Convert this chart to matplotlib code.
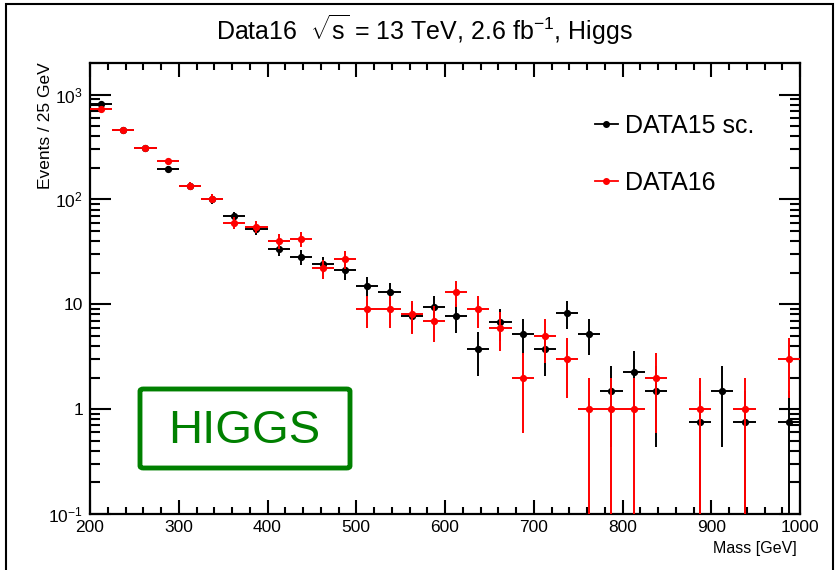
import numpy as np
import matplotlib
matplotlib.use("Agg")
import matplotlib.pyplot as plt
from matplotlib.lines import Line2D
from matplotlib.patches import Rectangle, FancyBboxPatch
from matplotlib.ticker import FixedLocator, FuncFormatter, LogLocator, MultipleLocator

plt.rcParams["font.family"] = ["Liberation Sans", "DejaVu Sans"]
plt.rcParams["mathtext.fontset"] = "custom"
plt.rcParams["mathtext.rm"] = "Liberation Sans"
plt.rcParams["mathtext.it"] = "Liberation Sans:italic"
plt.rcParams["mathtext.bf"] = "Liberation Sans:bold"

# bin centres (25 GeV bins)
mass = [212.5, 237.5, 262.5, 287.5, 312.5, 337.5, 362.5, 387.5,
        412.5, 437.5, 462.5, 487.5, 512.5, 537.5, 562.5, 587.5,
        612.5, 637.5, 662.5, 687.5, 712.5, 737.5, 762.5, 787.5,
        812.5, 837.5, 862.5, 887.5, 912.5, 937.5, 962.5, 987.5]
bin_half = 12.5

# DATA15 scaled (scale factor 0.75)
data15 = [810, 455, 310, 195, 135, 100, 69, 51.75,
          33.75, 28.5, 24, 21, 15, 13, 7.8, 9.4,
          7.7, 3.75, 6.75, 5.25, 3.75, 8.25, 5.25, 1.5,
          2.25, 1.5, np.nan, 0.75, 1.5, 0.75, np.nan, 0.75]
scale15 = 0.75

# DATA16 raw counts
data16 = [730, 460, 310, 230, 135, 102, 60, 55,
          40, 42, 22, 27, 9, 9, 8, 7,
          13, 9, 6, 2, 5, 3, 1, 1,
          1, 2, np.nan, 1, np.nan, 1, np.nan, 3]

mass = np.array(mass)
data15 = np.array(data15)
data16 = np.array(data16)
err15 = np.sqrt(scale15 * data15)
err16 = np.sqrt(data16)

fig = plt.figure(figsize=(8.36, 5.70), dpi=100)
ax = fig.add_axes([90 / 836, 1 - 514 / 570, 710 / 836, (514 - 63) / 570])

ax.set_yscale("log", nonpositive="clip")
ax.errorbar(mass, data15, xerr=bin_half, yerr=err15, fmt="o", color="black",
            ms=4.2, elinewidth=1.4, capsize=0, zorder=3)
ax.errorbar(mass, data16, xerr=bin_half, yerr=err16, fmt="o", color="red",
            ms=4.2, elinewidth=1.4, capsize=0, zorder=4)

ax.set_xlim(200, 1000)
ax.set_ylim(0.1, 2000)

ax.xaxis.set_major_locator(MultipleLocator(100))
ax.xaxis.set_minor_locator(MultipleLocator(20))
ax.yaxis.set_major_locator(FixedLocator([0.1, 1, 10, 100, 1000]))
ax.yaxis.set_minor_locator(LogLocator(base=10, subs=np.arange(2, 10)))

ylabels = {0.1: r"$10^{-1}$", 1: "1", 10: "10", 100: r"$10^{2}$", 1000: r"$10^{3}$"}
ax.yaxis.set_major_formatter(FuncFormatter(lambda v, p: ylabels.get(round(v, 3), "")))
ax.yaxis.set_minor_formatter(FuncFormatter(lambda v, p: ""))

ax.tick_params(which="both", direction="in", top=True, right=True, width=1.5,
               labelsize=12.5, colors="black")
ax.tick_params(axis="x", which="major", length=10, pad=4)
ax.tick_params(axis="x", which="minor", length=5)
ax.tick_params(axis="y", which="major", length=15, pad=5)
ax.tick_params(axis="y", which="minor", length=7.5)
for s in ax.spines.values():
    s.set_linewidth(1.6)

# titles and labels
fig.text(424 / 836, 1 - 30 / 570,
         r"Data16  $\sqrt{\mathrm{s}}$ = 13 TeV, 2.6 fb$^{-1}$, Higgs",
         ha="center", va="center", fontsize=18)
fig.text(45 / 836, 1 - 62 / 570, "Events / 25 GeV", rotation=90,
         ha="center", va="top", fontsize=12.5)
fig.text(797 / 836, 1 - 548 / 570, "Mass [GeV]", ha="right", va="center",
         fontsize=11.5)

# legend
handles = [Line2D([], [], color="black", marker="o", ms=4, lw=1.3),
           Line2D([], [], color="red", marker="o", ms=4, lw=1.3)]
ax.legend(handles, ["DATA15 sc.", "DATA16"], loc="upper left",
          bbox_to_anchor=(595 / 836, 1 - 114 / 570), bbox_transform=fig.transFigure,
          frameon=False, fontsize=18, handlelength=0.9, handletextpad=0.3,
          labelspacing=1.3, borderpad=0, borderaxespad=0)

# HIGGS label box
box = FancyBboxPatch((140 / 836, 1 - 468 / 570), 210 / 836, 79 / 570,
                     boxstyle="round,pad=0,rounding_size=0.004",
                     transform=fig.transFigure, fill=False,
                     edgecolor="#008000", lw=3.5)
fig.add_artist(box)
fig.text(244 / 836, 1 - 431 / 570, "HIGGS", color="#008000", fontsize=34,
         ha="center", va="center")

# canvas frame
fig.add_artist(Rectangle((6 / 836, -0.02), 827 / 836, 1.0 - 4 / 570 + 0.02,
                         transform=fig.transFigure, fill=False,
                         edgecolor="black", lw=1.5))

fig.savefig("out.png", dpi=100)
